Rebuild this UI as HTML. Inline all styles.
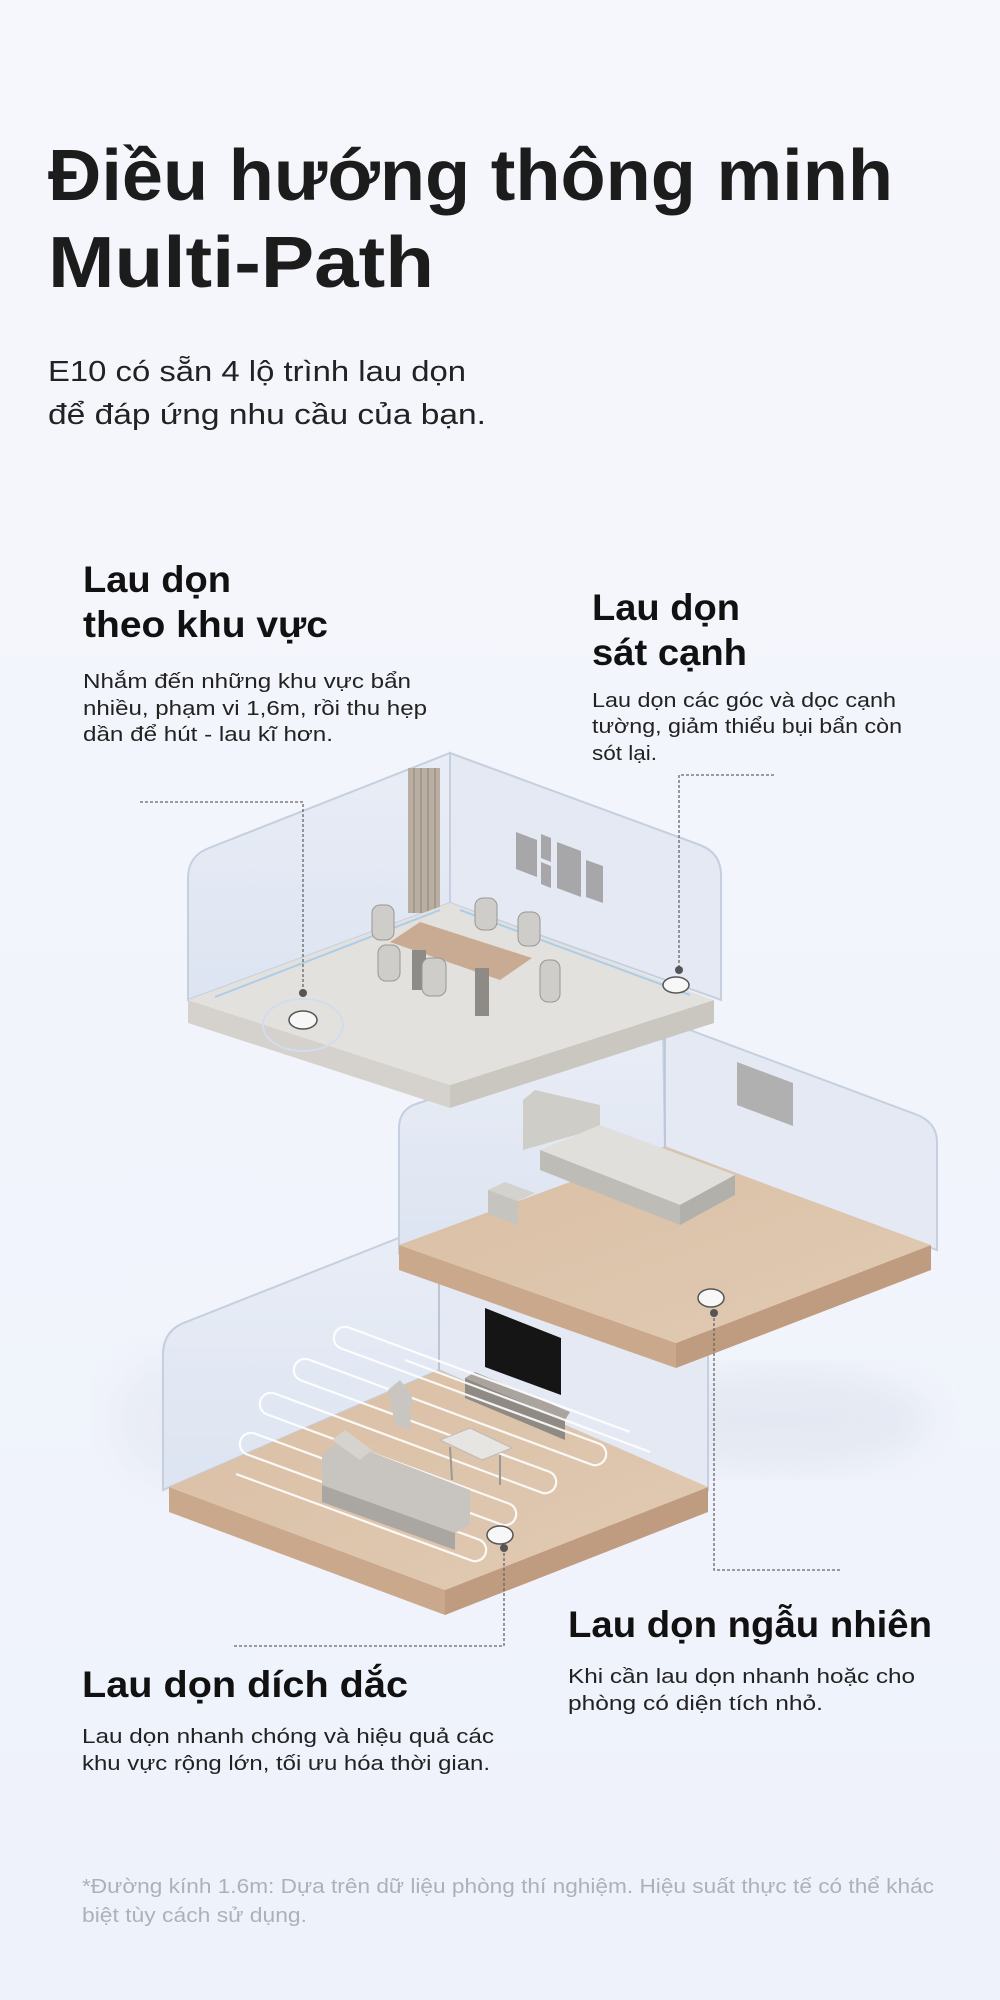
<!DOCTYPE html>
<html><head><meta charset="utf-8"><style>
html,body{margin:0;padding:0;background:#f4f6fc;}
svg{display:block}
text{font-family:"Liberation Sans",sans-serif;}
.h{font-weight:700;fill:#111;font-size:37px}
.b{fill:#222;font-size:20px}
</style></head><body>
<svg width="1000" height="2000" viewBox="0 0 1000 2000" xmlns="http://www.w3.org/2000/svg">
<defs>
<linearGradient id="bg" x1="0" y1="0" x2="0" y2="1"><stop offset="0" stop-color="#f6f7fc"/><stop offset="1" stop-color="#eef2fb"/></linearGradient>
<linearGradient id="wall" x1="0" y1="0" x2="0" y2="1"><stop offset="0" stop-color="#e9edf6"/><stop offset="1" stop-color="#dde4f1"/></linearGradient>
<linearGradient id="wood" x1="0" y1="0" x2="1" y2="1"><stop offset="0" stop-color="#d8bea4"/><stop offset="1" stop-color="#e2cbb4"/></linearGradient>
<filter id="blur"><feGaussianBlur stdDeviation="18"/></filter>
</defs>
<rect width="1000" height="2000" fill="url(#bg)"/>

<text x="48" y="200" font-size="72" font-weight="700" fill="#1c1c1c" textLength="845" lengthAdjust="spacingAndGlyphs">Điều hướng thông minh</text>
<text x="48" y="287" font-size="72" font-weight="700" fill="#1c1c1c" textLength="386" lengthAdjust="spacingAndGlyphs">Multi-Path</text>
<text x="48" y="381" font-size="29" fill="#222" textLength="418" lengthAdjust="spacingAndGlyphs">E10 có sẵn 4 lộ trình lau dọn</text>
<text x="48" y="424" font-size="29" fill="#222" textLength="438" lengthAdjust="spacingAndGlyphs">để đáp ứng nhu cầu của bạn.</text>

<text class="h" x="83" y="592" textLength="148" lengthAdjust="spacingAndGlyphs">Lau dọn</text>
<text class="h" x="83" y="637" textLength="245" lengthAdjust="spacingAndGlyphs">theo khu vực</text>
<text class="b" x="83" y="688" textLength="328" lengthAdjust="spacingAndGlyphs">Nhắm đến những khu vực bẩn</text>
<text class="b" x="83" y="715" textLength="344" lengthAdjust="spacingAndGlyphs">nhiều, phạm vi 1,6m, rồi thu hẹp</text>
<text class="b" x="83" y="741" textLength="250" lengthAdjust="spacingAndGlyphs">dần để hút - lau kĩ hơn.</text>

<text class="h" x="592" y="620" textLength="148" lengthAdjust="spacingAndGlyphs">Lau dọn</text>
<text class="h" x="592" y="665" textLength="155" lengthAdjust="spacingAndGlyphs">sát cạnh</text>
<text class="b" x="592" y="707" textLength="304" lengthAdjust="spacingAndGlyphs">Lau dọn các góc và dọc cạnh</text>
<text class="b" x="592" y="733" textLength="310" lengthAdjust="spacingAndGlyphs">tường, giảm thiểu bụi bẩn còn</text>
<text class="b" x="592" y="760" textLength="65" lengthAdjust="spacingAndGlyphs">sót lại.</text>

<ellipse cx="780" cy="1420" rx="150" ry="50" fill="#d9dfea" opacity="0.5" filter="url(#blur)"/>
<ellipse cx="200" cy="1420" rx="90" ry="70" fill="#e2e6ef" opacity="0.5" filter="url(#blur)"/>

<!-- Bottom room -->
<path d="M163,1490 L163,1355 Q163,1330 186,1322 L439,1222 L439,1370 Z" fill="url(#wall)" stroke="#c6cfde" stroke-width="2"/>
<path d="M439,1222 L690,1315 Q708,1322 708,1340 L708,1490 L439,1370 Z" fill="#e4e9f3" stroke="#c6cfde" stroke-width="2"/>
<line x1="439" y1="1240" x2="439" y2="1370" stroke="#b8c2d4" stroke-width="1.5"/>
<polygon points="485,1308 561,1338 561,1395 485,1367" fill="#151515"/>
<polygon points="169,1487 169,1512 445,1615 445,1590" fill="#c9a88c"/>
<polygon points="445,1590 445,1615 708,1512 708,1487" fill="#bf9c80"/>
<polygon points="169,1487 439,1370 708,1487 445,1590" fill="url(#wood)"/>
<polygon points="465,1378 565,1420 565,1440 465,1398" fill="#8f8a84"/>
<polygon points="465,1378 475,1372 570,1412 565,1420" fill="#a9a49e"/>
<g fill="none" stroke="#ffffff" stroke-width="2.2" opacity="0.9">
<path d="M236,1474 L470,1560 A10,10 0 0 0 480,1540 L246,1454 A10,10 0 0 1 256,1434 L500,1524 A10,10 0 0 0 510,1504 L266,1414 A10,10 0 0 1 276,1394 L540,1492 A10,10 0 0 0 550,1472 L300,1380 A10,10 0 0 1 310,1360 L590,1464 A10,10 0 0 0 600,1444 L340,1348 A10,10 0 0 1 350,1328 L630,1432"/>
<path d="M405,1360 L650,1452" />
</g>
<polygon points="388,1390 400,1380 412,1395 410,1430 395,1425" fill="#c9c6c1"/>
<polygon points="440,1440 470,1428 512,1448 482,1460" fill="#e7e5e1" stroke="#bdb9b3"/>
<line x1="450" y1="1447" x2="452" y2="1480" stroke="#9c9893" stroke-width="2"/>
<line x1="500" y1="1455" x2="500" y2="1485" stroke="#9c9893" stroke-width="2"/>
<polygon points="322,1455 340,1440 470,1490 470,1525 455,1533 322,1485" fill="#c8c5c0"/>
<polygon points="322,1485 455,1533 455,1550 322,1502" fill="#aaa7a2"/>
<polygon points="332,1440 345,1430 372,1450 360,1460" fill="#d6d3ce"/>
<ellipse cx="500" cy="1535" rx="13" ry="9" fill="#f7f7f7" stroke="#555" stroke-width="1.5"/>

<!-- Middle room -->
<path d="M399,1253 L399,1128 Q399,1110 416,1104 L663,1020 L665,1147 Z" fill="url(#wall)" stroke="#c6cfde" stroke-width="2"/>
<path d="M663,1020 L915,1114 Q937,1122 937,1142 L937,1250 L665,1147 Z" fill="#e4e9f3" stroke="#c6cfde" stroke-width="2"/>
<line x1="665" y1="1020" x2="665" y2="1147" stroke="#b8c2d4" stroke-width="1.5"/>
<polygon points="737,1062 793,1083 793,1126 737,1105" fill="#b0b0b0"/>
<polygon points="399,1245 399,1270 676,1368 676,1343" fill="#c9a88c"/>
<polygon points="676,1343 676,1368 931,1270 931,1245" fill="#bf9c80"/>
<polygon points="399,1245 665,1147 931,1245 676,1343" fill="url(#wood)"/>
<polygon points="523,1150 523,1100 535,1090 600,1105 600,1128" fill="#cfcdc8"/>
<polygon points="540,1150 600,1125 735,1175 680,1205" fill="#e0dfdb"/>
<polygon points="540,1150 680,1205 680,1225 540,1170" fill="#bebcb7"/>
<polygon points="680,1205 735,1175 735,1195 680,1225" fill="#b2b0ab"/>
<polygon points="488,1190 505,1182 535,1193 518,1201" fill="#d4d2ce"/>
<polygon points="488,1190 518,1201 518,1225 488,1214" fill="#c6c4bf"/>
<ellipse cx="711" cy="1298" rx="13" ry="9" fill="#f7f7f7" stroke="#555" stroke-width="1.5"/>

<!-- Top room -->
<path d="M188,1000 L188,878 Q188,856 209,848 L450,753 L450,903 Z" fill="url(#wall)" stroke="#c6cfde" stroke-width="2"/>
<path d="M450,753 L700,845 Q721,853 721,875 L721,1000 L450,903 Z" fill="#e4e9f3" stroke="#c6cfde" stroke-width="2"/>
<rect x="408" y="768" width="32" height="145" fill="#b9aea2"/>
<g stroke="#9d9286" stroke-width="1.5"><line x1="414" y1="768" x2="414" y2="913"/><line x1="421" y1="768" x2="421" y2="913"/><line x1="428" y1="768" x2="428" y2="913"/><line x1="435" y1="768" x2="435" y2="913"/></g>
<g fill="#a7a7a9">
<polygon points="516,832 537,840 537,877 516,869"/>
<polygon points="541,834 551,838 551,862 541,858"/>
<polygon points="541,862 551,866 551,888 541,884"/>
<polygon points="557,842 581,851 581,897 557,888"/>
<polygon points="586,860 603,866 603,903 586,897"/>
</g>
<polygon points="188,1000 188,1023 450,1108 450,1085" fill="#d5d2cd"/>
<polygon points="450,1085 450,1108 714,1023 714,1000" fill="#cac7c1"/>
<polygon points="188,1000 450,903 714,1000 450,1085" fill="#e3e1dd"/>
<g stroke="#9ec8ee" stroke-width="2" fill="none" opacity="0.8"><line x1="215" y1="997" x2="440" y2="910"/><line x1="460" y1="910" x2="690" y2="995"/></g>
<polygon points="390,942 420,922 532,958 500,980" fill="#c9ab94"/>
<rect x="412" y="950" width="14" height="40" fill="#8e8a86"/>
<rect x="475" y="968" width="14" height="48" fill="#8e8a86"/>
<g fill="#cfcdca" stroke="#9a9794" stroke-width="1">
<rect x="372" y="905" width="22" height="35" rx="8"/>
<rect x="475" y="898" width="22" height="32" rx="8"/>
<rect x="518" y="912" width="22" height="34" rx="8"/>
<rect x="378" y="945" width="22" height="36" rx="8"/>
<rect x="422" y="958" width="24" height="38" rx="8"/>
<rect x="540" y="960" width="20" height="42" rx="8"/>
</g>
<ellipse cx="303" cy="1025" rx="40" ry="26" fill="none" stroke="#d3dcec" stroke-width="2"/>
<ellipse cx="303" cy="1020" rx="14" ry="9" fill="#f7f7f7" stroke="#555" stroke-width="1.5"/>
<ellipse cx="676" cy="985" rx="13" ry="8" fill="#f7f7f7" stroke="#555" stroke-width="1.5"/>

<g stroke="#666" stroke-width="1.3" stroke-dasharray="3,2" fill="none">
<path d="M140,802 L303,802 L303,993"/>
<path d="M774,775 L679,775 L679,970"/>
<path d="M714,1313 L714,1570 L841,1570"/>
<path d="M504,1548 L504,1646 L233,1646"/>
</g>
<g fill="#555">
<circle cx="303" cy="993" r="4"/><circle cx="679" cy="970" r="4"/><circle cx="714" cy="1313" r="4"/><circle cx="504" cy="1548" r="4"/>
</g>

<text class="h" x="568" y="1637" textLength="364" lengthAdjust="spacingAndGlyphs">Lau dọn ngẫu nhiên</text>
<text class="b" x="568" y="1683" textLength="347" lengthAdjust="spacingAndGlyphs">Khi cần lau dọn nhanh hoặc cho</text>
<text class="b" x="568" y="1710" textLength="255" lengthAdjust="spacingAndGlyphs">phòng có diện tích nhỏ.</text>

<text class="h" x="82" y="1697" textLength="326" lengthAdjust="spacingAndGlyphs">Lau dọn dích dắc</text>
<text class="b" x="82" y="1743" textLength="412" lengthAdjust="spacingAndGlyphs">Lau dọn nhanh chóng và hiệu quả các</text>
<text class="b" x="82" y="1770" textLength="408" lengthAdjust="spacingAndGlyphs">khu vực rộng lớn, tối ưu hóa thời gian.</text>

<text x="82" y="1893" font-size="20" fill="#aeb1b8" textLength="852" lengthAdjust="spacingAndGlyphs">*Đường kính 1.6m: Dựa trên dữ liệu phòng thí nghiệm. Hiệu suất thực tế có thể khác</text>
<text x="82" y="1922" font-size="20" fill="#aeb1b8" textLength="225" lengthAdjust="spacingAndGlyphs">biệt tùy cách sử dụng.</text>
</svg>
</body></html>
